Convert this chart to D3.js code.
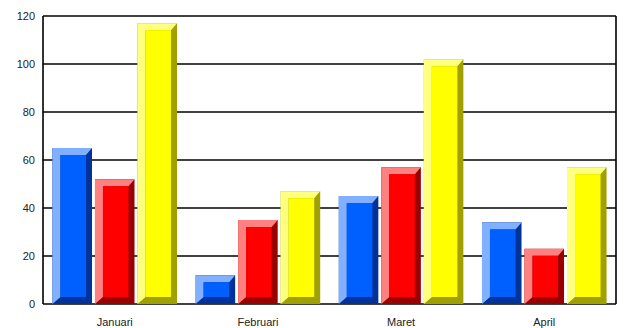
<html>
<head>
<meta charset="utf-8">
<style>
  body { margin: 0; background: #fff; }
  text { font-family: "Liberation Sans", Arial, sans-serif; font-size: 11px; fill: #222; }
</style>
</head>
<body>
<script src="https://cdn.jsdelivr.net/npm/d3@7"></script>
<script>

// chart values
var months = ['Januari', 'Februari', 'Maret', 'April'];
var seriesNames = ['biru', 'merah', 'kuning'];
var biru   = [65, 12, 45, 34];
var merah  = [52, 35, 57, 23];
var kuning = [117, 47, 102, 57];
var yTicks = [0, 20, 40, 60, 80, 100, 120];

// face, light bevel, dark bevel per series
var palette = [
  {face: '#0060ff', light: '#80b0ff', dark: '#003399'},
  {face: '#ff0000', light: '#ff8080', dark: '#990000'},
  {face: '#ffff00', light: '#ffff80', dark: '#a0a000'}
];

var w = 626, h = 328;
var plotL = 43, plotR = 616, plotT = 16, plotB = 304;

var svg = d3.select('body').append('svg')
    .attr('width', w)
    .attr('height', h);

var x = d3.scaleBand().domain(months).range([plotL, plotR]).paddingInner(0.13).paddingOuter(0.066);
var xs = d3.scaleBand().domain(seriesNames).range([0, x.bandwidth()]).paddingInner(0.07);
var y = d3.scaleLinear().domain([0, 120]).range([plotB, plotT]);

// grid lines
svg.selectAll('line.grid')
    .data(yTicks)
    .enter()
    .append('line')
    .attr('class', 'grid')
    .attr('x1', plotL)
    .attr('x2', plotR)
    .attr('y1', function(d){ return y(d); })
    .attr('y2', function(d){ return y(d); })
    .style('stroke', '#000')
    .style('stroke-width', 1.6);

// side borders
svg.append('line').attr('x1', plotL).attr('x2', plotL).attr('y1', plotT).attr('y2', plotB)
    .style('stroke', '#000').style('stroke-width', 1.6);
svg.append('line').attr('x1', plotR).attr('x2', plotR).attr('y1', plotT).attr('y2', plotB)
    .style('stroke', '#000').style('stroke-width', 1.6);

// flatten data into bars
var data = [];
var all = [biru, merah, kuning];
months.forEach(function(m, i){
  seriesNames.forEach(function(s, j){
    data.push({month: m, series: s, k: j, value: all[j][i]});
  });
});

var bar = svg.selectAll('g.bar')
    .data(data)
    .enter()
    .append('g')
    .attr('class', 'bar');

var dl = 8, dt = 7, dr = 6, db = 7;

function geom(d){
  var x0 = x(d.month) + xs(d.series);
  var x1 = x0 + xs.bandwidth();
  var y0 = y(d.value);
  var y1 = y(0);
  var bt = Math.min(dt, (y1 - y0) / 2);
  var bb = Math.min(db, (y1 - y0) / 2);
  return {x0: x0, x1: x1, y0: y0, y1: y1, ix0: x0 + dl, ix1: x1 - dr, iy0: y0 + bt, iy1: y1 - bb};
}

// dark base (right + bottom bevel)
bar.append('rect')
    .attr('x', function(d){ return geom(d).x0; })
    .attr('y', function(d){ return geom(d).y0; })
    .attr('width', function(d){ var g = geom(d); return g.x1 - g.x0; })
    .attr('height', function(d){ var g = geom(d); return g.y1 - g.y0; })
    .style('fill', function(d){ return palette[d.k].dark; });

// light bevel (top + left)
bar.append('polygon')
    .attr('points', function(d){
      var g = geom(d);
      return [[g.x0, g.y0], [g.x1, g.y0], [g.ix1, g.iy0], [g.ix0, g.iy0], [g.ix0, g.iy1], [g.x0, g.y1]]
        .map(function(p){ return p.join(','); }).join(' ');
    })
    .style('fill', function(d){ return palette[d.k].light; });

// face
bar.append('rect')
    .attr('x', function(d){ return geom(d).ix0; })
    .attr('y', function(d){ return geom(d).iy0; })
    .attr('width', function(d){ var g = geom(d); return g.ix1 - g.ix0; })
    .attr('height', function(d){ var g = geom(d); return Math.max(0, g.iy1 - g.iy0); })
    .style('fill', function(d){ return palette[d.k].face; });

// y labels
svg.selectAll('text.ylab')
    .data(yTicks)
    .enter()
    .append('text')
    .attr('class', 'ylab')
    .attr('x', 35)
    .attr('y', function(d){ return y(d); })
    .attr('dy', '0.35em')
    .attr('text-anchor', 'end')
    .text(function(d){ return d; });

// x labels
svg.selectAll('text.xlab')
    .data(months)
    .enter()
    .append('text')
    .attr('class', 'xlab')
    .attr('x', function(d){ return x(d) + x.bandwidth() / 2; })
    .attr('y', 322)
    .attr('dy', '0.35em')
    .attr('text-anchor', 'middle')
    .text(function(d){ return d; });

</script>
</body>
</html>
